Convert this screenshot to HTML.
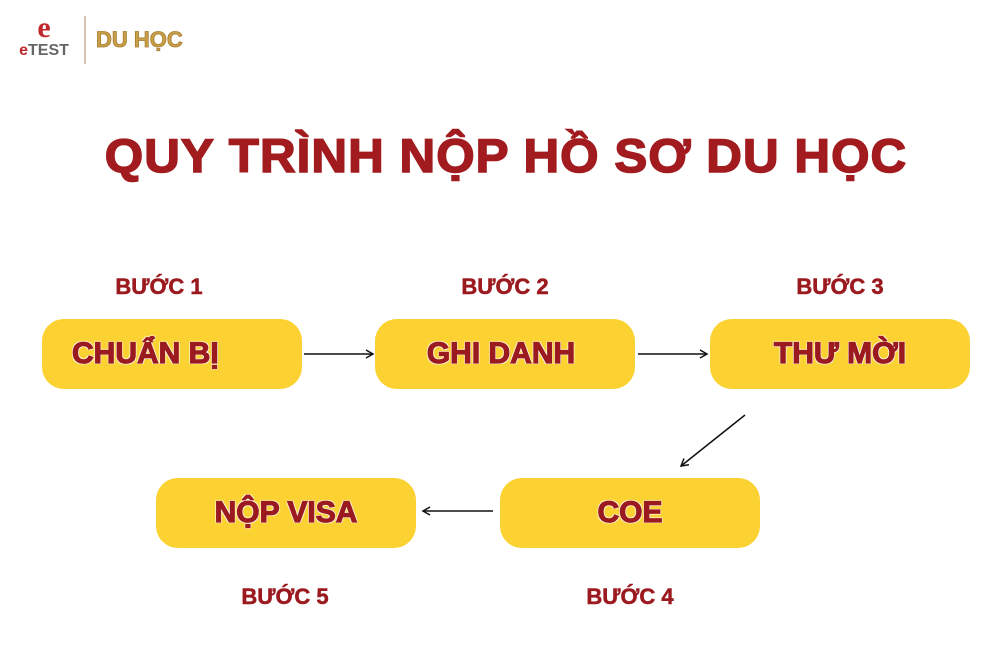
<!DOCTYPE html>
<html><head><meta charset="utf-8"><style>
body{margin:0;width:1000px;height:650px;background:#fff;position:relative;overflow:hidden;font-family:"Liberation Sans","DejaVu Sans",sans-serif}
.t{position:absolute;left:0;width:1000px;top:128px;text-align:center;font-weight:900;font-size:47px;color:#a11b1f;letter-spacing:1px;transform:translateX(6px) scaleX(1.05);-webkit-text-stroke:1.5px #a11b1f}
.p{position:absolute;width:260px;height:70px;border-radius:22px;background:#fcd232;color:#9b1a1f;font-weight:900;font-size:30px;line-height:70px;text-align:center;-webkit-text-stroke:1.2px #9b1a1f;text-shadow:0 0 2px #fff,1px 1px 0 #fff,-1px -1px 0 #fff,1px -1px 0 #fff,-1px 1px 0 #fff}
.b{position:absolute;width:120px;text-align:center;font-weight:900;font-size:22px;color:#9b1a1f;-webkit-text-stroke:.5px #9b1a1f}
</style></head><body>
<div style="position:absolute;left:14px;top:14px;width:60px;text-align:center">
<div style="font:bold 30px 'Liberation Serif',serif;color:#c0282d;line-height:28px">e</div>
<div style="font-size:16px;line-height:18px;color:#666;font-weight:bold"><span style="color:#c0282d">e</span>TEST</div></div>
<div style="position:absolute;left:84px;top:16px;width:2px;height:48px;background:#d9c2b0"></div>
<div style="position:absolute;left:96px;top:27px;font-weight:900;font-size:22px;color:#c9a04a;-webkit-text-stroke:.8px #a67b2b">DU HỌC</div>
<div class="t">QUY TRÌNH NỘP HỒ SƠ DU HỌC</div>
<div class="b" style="left:99px;top:274px">BƯỚC 1</div>
<div class="b" style="left:445px;top:274px">BƯỚC 2</div>
<div class="b" style="left:780px;top:274px">BƯỚC 3</div>
<div class="b" style="left:225px;top:584px">BƯỚC 5</div>
<div class="b" style="left:570px;top:584px">BƯỚC 4</div>
<div class="p" style="left:42px;top:319px;text-align:left;box-sizing:border-box;padding-left:30px">CHUẨN BỊ</div>
<div class="p" style="left:375px;top:319px;text-indent:-8px">GHI DANH</div>
<div class="p" style="left:710px;top:319px">THƯ MỜI</div>
<div class="p" style="left:500px;top:478px">COE</div>
<div class="p" style="left:156px;top:478px">NỘP VISA</div>
<svg width="1000" height="650" style="position:absolute;left:0;top:0">
<defs><marker id="a" markerWidth="10" markerHeight="10" refX="8" refY="5" orient="auto" markerUnits="userSpaceOnUse"><path d="M1,1 L8,5 L1,9" fill="none" stroke="#111" stroke-width="1.5"/></marker></defs>
<g stroke="#111" stroke-width="1.5" marker-end="url(#a)">
<line x1="304" y1="354" x2="373" y2="354"/>
<line x1="638" y1="354" x2="707" y2="354"/>
<line x1="745" y1="415" x2="681" y2="466"/>
<line x1="493" y1="511" x2="423" y2="511"/>
</g></svg>
</body></html>
